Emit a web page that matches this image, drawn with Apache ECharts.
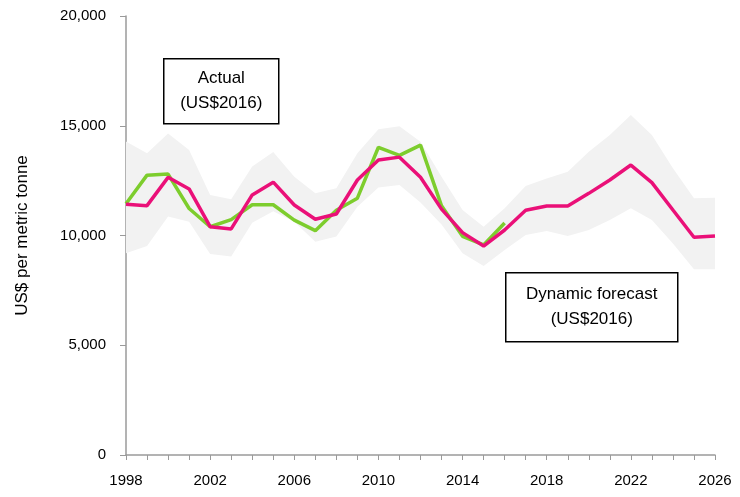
<!DOCTYPE html>
<html>
<head>
<meta charset="utf-8">
<script src="https://cdn.jsdelivr.net/npm/echarts@6/dist/echarts.min.js"></script>
<style>
  html, body { margin: 0; padding: 0; background: #fff; }
  #chart { width: 740px; height: 497px; }
</style>
</head>
<body>
<div id="chart"></div>
<script>
  const years = []
  for (let y = 1998; y <= 2026; y++) years.push(String(y))

  // actual price, 1998-2016
  const actual = [11450, 12750, 12800, 11230, 10400, 10720, 11400, 11400, 10700, 10220,
    11150, 11700, 14020, 13650, 14120, 11350, 9960, 9570, 10570]

  // dynamic forecast, 1998-2026
  const forecast = [11420, 11360, 12650, 12120, 10400, 10300, 11850, 12430, 11390, 10740,
    10980, 12530, 13440, 13570, 12650, 11200, 10130, 9520, 10250, 11150,
    11340, 11340, 11920, 12530, 13210, 12410, 11160, 9920, 9980]

  // uncertainty band
  const bandLow = [9190, 9520, 10860, 10630, 9160, 9040, 10580, 11100, 10630, 9720,
    9950, 11310, 12190, 12300, 11500, 10500, 9190, 8610, 9340, 10020,
    10200, 9980, 10250, 10710, 11240, 10710, 9640, 8460, 8460]
  const bandHigh = [14280, 13750, 14650, 13900, 11850, 11650, 13140, 13800, 12680, 11920,
    12150, 13750, 14840, 14980, 14270, 12680, 11160, 10400, 11240, 12250,
    12600, 12900, 13820, 14580, 15490, 14580, 13060, 11700, 11720]

  const yTicks = [0, 5000, 10000, 15000, 20000]

  const font = 'Liberation Sans'
  const bandDiff = bandHigh.map((v, i) => v - bandLow[i])

  function box (left, top, w, h, lines) {
    return {
      type: 'group',
      left: left,
      top: top,
      children: [{
        type: 'rect',
        shape: { x: 0, y: 0, width: w, height: h },
        style: { fill: '#fff', stroke: '#000', lineWidth: 1.5 }
      }, {
        type: 'text',
        x: w / 2,
        y: h / 2,
        style: {
          text: lines.join('\n'),
          fontFamily: font,
          fontSize: 17,
          lineHeight: 25,
          fill: '#000',
          align: 'center',
          verticalAlign: 'middle'
        }
      }]
    }
  }

  const chart = echarts.init(document.getElementById('chart'))
  chart.setOption({
    animation: false,
    grid: { left: 126, right: 25, top: 16, bottom: 42 },
    xAxis: {
      type: 'category',
      data: years,
      boundaryGap: false,
      axisLine: { lineStyle: { color: '#9a9a9a', width: 1.5 } },
      axisTick: { show: true, interval: 0, length: 5, lineStyle: { color: '#9a9a9a' } },
      axisLabel: { interval: 3, color: '#000', fontFamily: font, fontSize: 15, margin: 18 },
      splitLine: { show: false }
    },
    yAxis: {
      type: 'value',
      min: yTicks[0],
      max: yTicks[yTicks.length - 1],
      interval: 5000,
      name: 'US$ per metric tonne',
      nameLocation: 'middle',
      nameGap: 95,
      nameTextStyle: { color: '#000', fontFamily: font, fontSize: 17 },
      axisLine: { show: true, lineStyle: { color: '#9a9a9a', width: 1.5 } },
      axisTick: { show: true, length: 6, lineStyle: { color: '#9a9a9a' } },
      axisLabel: {
        color: '#000',
        fontFamily: font,
        fontSize: 15,
        margin: 20,
        formatter: v => v.toLocaleString('en-US')
      },
      splitLine: { show: false }
    },
    series: [{
      name: 'bandLow',
      type: 'line',
      data: bandLow,
      stack: 'band',
      symbol: 'none',
      lineStyle: { opacity: 0 },
      silent: true
    }, {
      name: 'band',
      type: 'line',
      data: bandDiff,
      stack: 'band',
      symbol: 'none',
      lineStyle: { opacity: 0 },
      areaStyle: { color: '#f2f2f2', opacity: 1 },
      silent: true
    }, {
      name: 'Actual',
      type: 'line',
      data: actual,
      symbol: 'none',
      lineStyle: { color: '#7dcd2d', width: 3.5 },
      z: 3
    }, {
      name: 'Dynamic forecast',
      type: 'line',
      data: forecast,
      symbol: 'none',
      lineStyle: { color: '#ea1078', width: 3.5 },
      z: 4
    }],
    graphic: [
      box(163, 58, 115, 65, ['Actual', '(US$2016)']),
      box(505, 272, 172, 69, ['Dynamic forecast', '(US$2016)'])
    ]
  })
</script>
</body>
</html>
